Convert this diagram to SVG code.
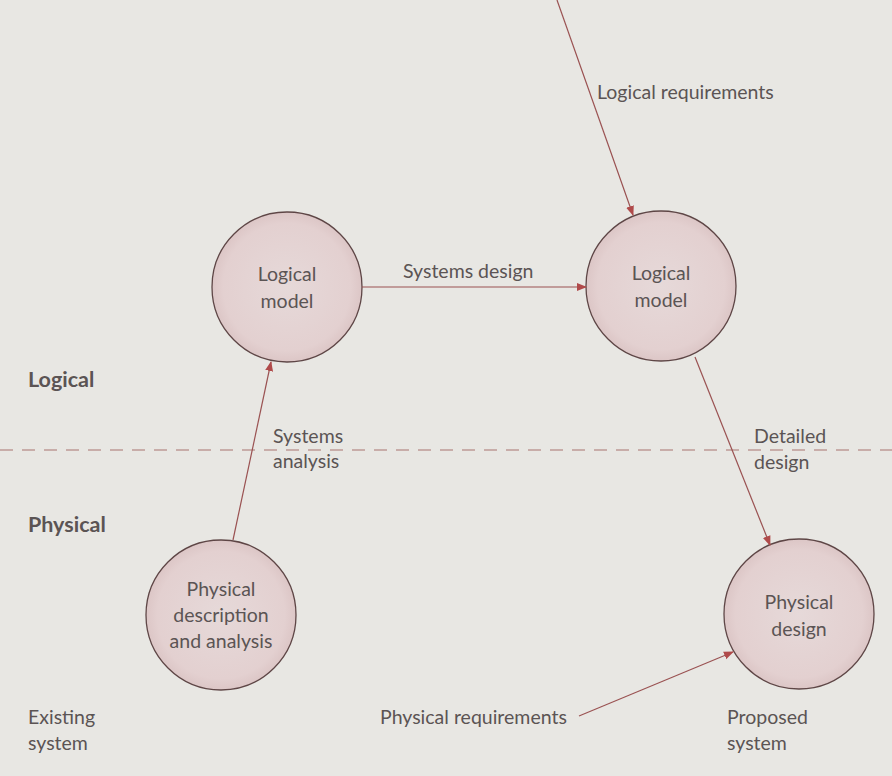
<svg xmlns="http://www.w3.org/2000/svg" width="892" height="776" viewBox="0 0 892 776">
<defs>
<radialGradient id="cg" cx="0.5" cy="0.5" r="0.5">
<stop offset="0" stop-color="#e6d9d9"/>
<stop offset="0.85" stop-color="#e3d0d0"/>
<stop offset="1" stop-color="#dcc6c6"/>
</radialGradient>
<marker id="ah" viewBox="0 0 10 10" refX="9" refY="5" markerWidth="10" markerHeight="10" markerUnits="userSpaceOnUse" orient="auto">
<path d="M0,1 L10,5 L0,9 z" fill="#b04a4a"/>
</marker>
</defs>
<style>
.bg{fill:#e8e7e3}
.node{fill:url(#cg);stroke:#5e4646;stroke-width:1.3}
.t{font-family:Lato,"Open Sans","Liberation Sans",sans-serif;font-size:19.5px;fill:#5b5454}
.c{text-anchor:middle}
.b{font-weight:bold;font-size:21.5px}
.edge{stroke:#9a5252;stroke-width:1.2;fill:none}
.dash{stroke:#a87570;stroke-width:1.2;stroke-dasharray:13,9;fill:none}
</style>
<rect class="bg" x="0" y="0" width="892" height="776"/>
<line class="dash" x1="0" y1="450" x2="892" y2="450"/>
<g id="n1"><circle class="node" cx="287" cy="287" r="75"/><text class="t c" x="287" y="281">Logical</text><text class="t c" x="287" y="308">model</text></g>
<g id="n2"><circle class="node" cx="661" cy="286" r="75"/><text class="t c" x="661" y="280">Logical</text><text class="t c" x="661" y="307">model</text></g>
<g id="n3"><circle class="node" cx="799" cy="614" r="75"/><text class="t c" x="799" y="609">Physical</text><text class="t c" x="799" y="636">design</text></g>
<g id="n4"><circle class="node" cx="221" cy="615" r="75"/><text class="t c" x="221" y="596">Physical</text><text class="t c" x="221" y="622">description</text><text class="t c" x="221" y="648">and analysis</text></g>
<g id="edges">
<line class="edge" x1="362" y1="287" x2="586" y2="287" marker-end="url(#ah)"/>
<line class="edge" x1="557" y1="0" x2="633" y2="215" marker-end="url(#ah)"/>
<line class="edge" x1="695" y1="357" x2="770" y2="545" marker-end="url(#ah)"/>
<line class="edge" x1="233" y1="540" x2="271" y2="362" marker-end="url(#ah)"/>
<line class="edge" x1="579" y1="716" x2="733" y2="652" marker-end="url(#ah)"/>
</g>
<g id="labels">
<text class="t" x="403" y="278">Systems design</text>
<text class="t" x="597" y="99">Logical requirements</text>
<text class="t" x="273" y="443">Systems</text>
<text class="t" x="273" y="468">analysis</text>
<text class="t" x="754" y="443">Detailed</text>
<text class="t" x="754" y="469">design</text>
<text class="t b" x="28" y="387">Logical</text>
<text class="t b" x="28" y="532">Physical</text>
<text class="t" x="28" y="724">Existing</text>
<text class="t" x="28" y="750">system</text>
<text class="t" x="380" y="724">Physical requirements</text>
<text class="t" x="727" y="724">Proposed</text>
<text class="t" x="727" y="750">system</text>
</g>
</svg>
